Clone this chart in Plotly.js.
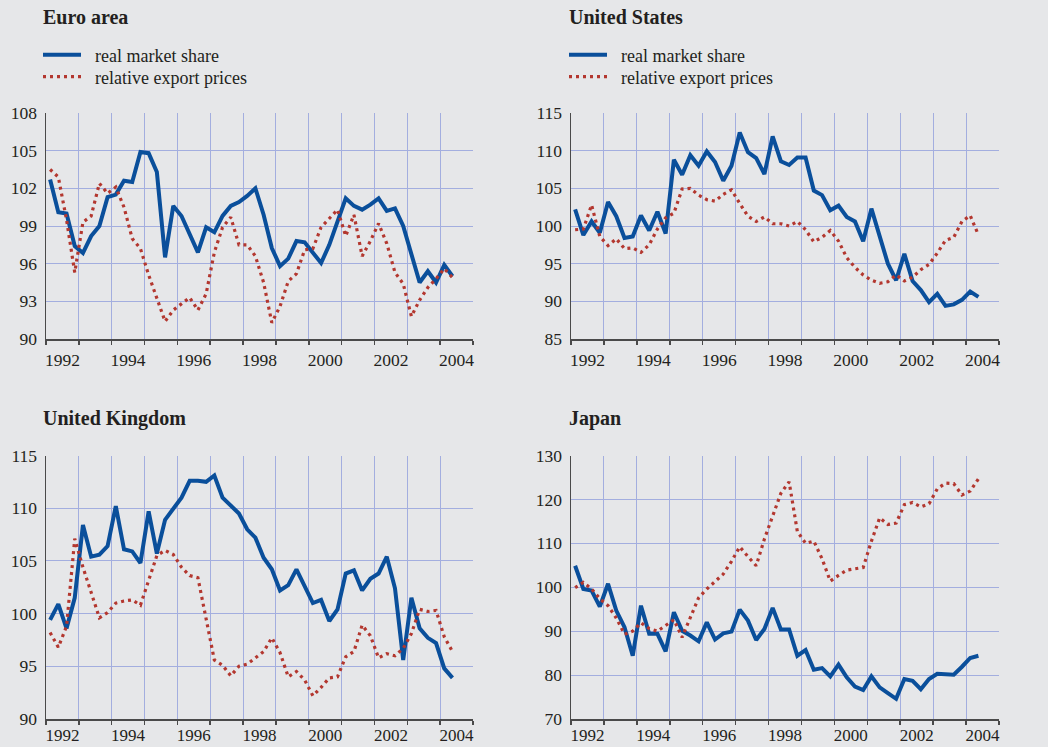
<!DOCTYPE html>
<html>
<head>
<meta charset="utf-8">
<script src="https://cdn.plot.ly/plotly-3.0.1.min.js"></script>
<style>
  html, body { margin: 0; padding: 0; background: #e6e7e9; }
  #chart { width: 1048px; height: 747px; }
</style>
</head>
<body>
<div id="chart"></div>
<script>
// Quarterly observations 1992Q1 .. 2004Q2
const quarters = [];
for (let y = 1992; y <= 2004; y++) {
  for (let q = 1; q <= 4; q++) {
    if (y === 2004 && q > 2) break;
    quarters.push(y + 'Q' + q);
  }
}

const yearLabels = ['1992', '1994', '1996', '1998', '2000', '2002', '2004'];
const seriesNames = ['real market share', 'relative export prices'];
const panelTitles = ['Euro area', 'United States', 'United Kingdom', 'Japan'];

const euroShare = [102.7,100.1,100.0,97.4,96.85,98.2,99.0,101.3,101.5,102.6,102.5,104.9,104.8,103.3,96.5,100.6,99.8,98.3,96.9,98.9,98.5,99.8,100.6,100.9,101.4,102.0,99.9,97.25,95.8,96.4,97.8,97.7,96.85,96.05,97.5,99.4,101.2,100.6,100.3,100.7,101.2,100.2,100.4,99.0,96.85,94.5,95.4,94.5,95.9,95.0];
const euroPrices = [103.5,102.9,99.5,95.3,99.3,99.8,102.4,101.6,102.1,100.5,98.0,97.2,95.1,93.2,91.4,92.3,92.8,93.3,92.3,93.6,96.9,98.9,99.7,97.5,97.5,96.6,94.5,91.3,92.6,94.6,95.2,97.1,97.2,98.9,99.6,100.3,98.2,99.9,96.6,97.8,99.2,97.6,95.3,94.4,91.8,93.1,94.1,94.8,95.6,94.9];

const usShare = [102.2,98.8,100.6,99.1,103.2,101.3,98.4,98.6,101.4,99.4,101.9,99.0,108.8,106.8,109.4,108.0,109.9,108.5,106.0,108.0,112.4,109.8,109.0,106.9,111.9,108.6,108.1,109.1,109.1,104.7,104.1,102.1,102.7,101.2,100.6,97.97,102.3,98.8,95.0,92.8,96.3,92.7,91.5,89.9,91.0,89.4,89.6,90.2,91.3,90.6];
const usPrices = [99.5,99.6,102.8,98.6,97.4,98.3,97.0,97.1,96.5,97.5,99.6,101.1,101.7,104.9,105.0,104.1,103.5,103.3,104.2,104.8,103.0,101.3,100.6,101.2,100.3,100.3,100.0,100.6,99.5,97.9,98.5,99.4,98.0,95.8,94.5,93.5,92.8,92.4,92.6,93.5,92.7,93.2,94.2,94.9,96.4,98.1,98.5,100.6,101.4,98.8];

const ukShare = [99.4,100.9,98.6,101.5,108.4,105.4,105.6,106.4,110.2,106.1,105.9,104.8,109.7,105.7,108.9,109.9,111.0,112.6,112.6,112.5,113.1,111.0,110.3,109.5,108.0,107.2,105.3,104.2,102.2,102.7,104.2,102.6,101.0,101.3,99.3,100.4,103.8,104.1,102.2,103.3,103.8,105.4,102.4,95.6,101.5,98.6,97.7,97.2,94.8,93.9];
const ukPrices = [98.2,96.8,98.8,107.1,104.4,101.9,99.6,100.1,101.0,101.2,101.3,100.8,103.2,105.5,106.0,105.6,104.4,103.6,103.4,99.5,95.6,95.1,94.1,95.0,95.2,95.8,96.4,97.7,96.3,94.0,94.5,93.7,92.2,93.0,93.9,94.0,95.9,96.4,98.9,97.9,95.8,96.2,96.0,96.7,98.1,100.4,100.2,100.3,97.8,96.4];

const jpShare = [104.9,99.6,99.25,95.6,100.8,94.7,90.9,84.4,95.8,89.4,89.4,85.4,94.3,90.1,89.0,87.7,92.0,88.1,89.5,89.9,94.9,92.4,88.0,90.5,95.3,90.4,90.4,84.4,85.7,81.2,81.6,79.7,82.4,79.5,77.4,76.6,79.7,77.2,75.9,74.6,79.1,78.7,76.8,79.1,80.3,80.1,80.1,81.9,83.9,84.4];
const jpPrices = [99.9,101.1,99.6,97.4,95.8,93.0,89.3,90.0,91.9,90.6,90.0,91.3,92.6,88.6,93.0,97.6,99.6,101.2,103.0,105.9,109.2,107.0,104.9,111.0,116.0,121.4,124.0,112.7,110.0,110.5,106.5,101.4,102.7,103.9,104.2,104.5,110.5,115.8,114.3,114.6,118.8,119.3,118.3,119.0,122.4,123.7,123.6,121.0,121.9,124.7];

const yRanges = [[90, 108], [85, 115], [90, 115], [70, 130]];
const yDticks = [3, 5, 5, 10];

// convert quarter label to a time position (mid-quarter, in years)
function qPos(s) {
  const y = parseInt(s.slice(0, 4), 10);
  const q = parseInt(s.slice(5), 10);
  return y + (q - 0.5) / 4;
}
const xVals = quarters.map(qPos);

const BLUE = '#0a4f9b';
const RED = '#b3372f';
const GRID = '#a3aedf';
const AXIS = '#4a4a4a';
const BG = '#e6e7e9';
const TXT = '#231f20';
const FONT = 'Liberation Serif, Times New Roman, serif';
const TICK_SIZE = 17.5;

const shares = [euroShare, usShare, ukShare, jpShare];
const prices = [euroPrices, usPrices, ukPrices, jpPrices];
// one single-entry legend per legend row (top panels only)
const shareLegends = ['legend', 'legend2', null, null];
const priceLegends = ['legend3', 'legend4', null, null];
const NB = '\u00a0\u00a0';

const traces = [];
for (let p = 0; p < 4; p++) {
  const xa = p === 0 ? 'x' : 'x' + (p + 1);
  const ya = p === 0 ? 'y' : 'y' + (2 * p + 1);
  traces.push({
    x: xVals, y: shares[p], xaxis: xa, yaxis: ya,
    type: 'scatter', mode: 'lines', name: NB + seriesNames[0],
    line: { color: BLUE, width: 4 },
    showlegend: !!shareLegends[p], legend: shareLegends[p] || 'legend', hoverinfo: 'skip'
  });
  traces.push({
    x: xVals, y: prices[p], xaxis: xa, yaxis: ya,
    type: 'scatter', mode: 'lines', name: NB + seriesNames[1],
    line: { color: RED, width: 3.2, dash: '3px,4px' },
    showlegend: !!priceLegends[p], legend: priceLegends[p] || 'legend', hoverinfo: 'skip'
  });
}

const W = 1048, H = 747;
const xDomains = [[46 / W, 473 / W], [571 / W, 999 / W]];
const yDomains = [[1 - 339 / H, 1 - 113 / H], [1 - 719 / H, 1 - 455.5 / H]];

const layout = {
  width: W, height: H,
  margin: { l: 0, r: 0, t: 0, b: 0 },
  paper_bgcolor: BG, plot_bgcolor: BG,
  font: { family: FONT, size: 16, color: TXT },
  annotations: [],
  hovermode: false
};

const yearTickVals = yearLabels.map(s => parseInt(s, 10) + 0.5);

for (let p = 0; p < 4; p++) {
  const col = p % 2, row = Math.floor(p / 2);
  const xKey = p === 0 ? 'xaxis' : 'xaxis' + (p + 1);
  const yL = 2 * p + 1, yR = 2 * p + 2;
  const yLKey = yL === 1 ? 'yaxis' : 'yaxis' + yL;
  const yRKey = 'yaxis' + yR;
  const xRef = p === 0 ? 'x' : 'x' + (p + 1);
  const yLRef = yL === 1 ? 'y' : 'y' + yL;

  layout[xKey] = {
    domain: xDomains[col], anchor: yLRef,
    range: [1992, 2005], fixedrange: true,
    tickmode: 'array', tickvals: yearTickVals, ticktext: yearLabels,
    ticks: '', showgrid: false, zeroline: false,
    showline: true, linecolor: AXIS, linewidth: 1.5,
    ticklabelstandoff: row === 0 ? 4 : 0,
    tickfont: { family: FONT, size: row === 0 ? TICK_SIZE : 17, color: TXT },
    minor: {
      tickmode: 'linear', tick0: 1992, dtick: 1,
      ticks: 'outside', ticklen: 4, tickcolor: AXIS, tickwidth: 1.5,
      showgrid: true, gridcolor: GRID, gridwidth: 1
    }
  };
  layout[yLKey] = {
    domain: yDomains[row], anchor: xRef,
    range: yRanges[p], dtick: yDticks[p], tick0: yRanges[p][0], tickmode: 'linear',
    fixedrange: true, ticks: '', showgrid: true, gridcolor: GRID, gridwidth: 1,
    zeroline: false, showline: true, linecolor: AXIS, linewidth: 1.5,
    ticklabelstandoff: 4,
    tickfont: { family: FONT, size: TICK_SIZE, color: TXT }
  };
  layout[yRKey] = {
    overlaying: yLRef, anchor: xRef, side: 'right',
    range: yRanges[p], dtick: yDticks[p], tick0: yRanges[p][0], tickmode: 'linear',
    fixedrange: true, ticks: '', showgrid: false, zeroline: false,
    showline: true, linecolor: AXIS, linewidth: 1.5,
    ticklabelstandoff: 3,
    tickfont: { family: FONT, size: TICK_SIZE, color: TXT }
  };

  layout.annotations.push({
    text: '<b>' + panelTitles[p] + '</b>',
    xref: 'paper', yref: 'paper',
    x: (col === 0 ? 41 : 567) / W, xanchor: 'left',
    y: 1 - (row === 0 ? 17 : 418) / H, yanchor: 'middle',
    showarrow: false,
    font: { family: FONT, size: 20, color: TXT }
  });
}

const legendBase = {
  bgcolor: 'rgba(0,0,0,0)', borderwidth: 0,
  font: { family: FONT, size: 18, color: TXT },
  yanchor: 'middle', xanchor: 'left',
  itemwidth: 38, tracegroupgap: 0, orientation: 'v',
  itemclick: false, itemdoubleclick: false
};
const legX = [38 / W, 564 / W];
const legY = [1 - 55 / H, 1 - 77 / H];
layout.legend = Object.assign({}, legendBase, { x: legX[0], y: legY[0] });
layout.legend2 = Object.assign({}, legendBase, { x: legX[1], y: legY[0] });
layout.legend3 = Object.assign({}, legendBase, { x: legX[0], y: legY[1] });
layout.legend4 = Object.assign({}, legendBase, { x: legX[1], y: legY[1] });

Plotly.newPlot('chart', traces, layout, { staticPlot: true, displayModeBar: false });
</script>
</body>
</html>
